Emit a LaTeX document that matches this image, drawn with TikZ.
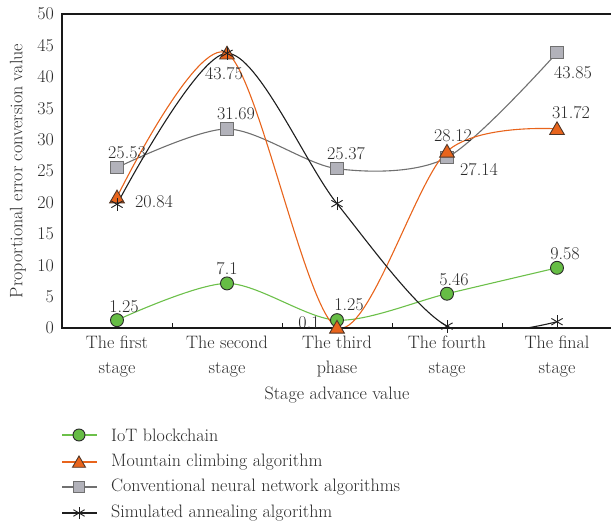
\documentclass[tikz,border=0pt]{standalone}
\usepackage{fontspec}
\usetikzlibrary{shapes.geometric}
\definecolor{cgreen}{HTML}{6CC04A}
\definecolor{cgreenfill}{HTML}{66BD45}
\definecolor{corange}{HTML}{E8641C}
\definecolor{cgray}{HTML}{707070}
\definecolor{cgrayfill}{HTML}{B2B2BA}
\definecolor{cblack}{HTML}{1E1E1E}
\definecolor{ctext}{HTML}{2A2A2A}
\tikzset{
  txt/.style={font=\fontsize{18}{25}\selectfont, text=ctext, inner sep=0pt},
  cat/.style={txt, align=center},
  mkcirc/.style={circle, draw=ctext, fill=cgreenfill, line width=0.9pt, minimum size=13pt, inner sep=0pt},
  mktri/.style={regular polygon, regular polygon sides=3, draw=ctext!80!corange, fill=corange, line width=0.9pt, minimum size=17pt, inner sep=0pt},
  mksq/.style={rectangle, draw=cgray, fill=cgrayfill, line width=1pt, minimum size=12.5pt, inner sep=0pt},
  mkstar/.style={inner sep=0pt, minimum size=13pt, path picture={
      \draw[cblack, line width=0.9pt] (path picture bounding box.south) -- (path picture bounding box.north);
      \draw[cblack, line width=0.9pt] ([shift={(-5.6pt,3.3pt)}]path picture bounding box.center) -- ([shift={(5.6pt,-3.3pt)}]path picture bounding box.center);
      \draw[cblack, line width=0.9pt] ([shift={(-5.6pt,-3.3pt)}]path picture bounding box.center) -- ([shift={(5.6pt,3.3pt)}]path picture bounding box.center);
  }},
  lgreen/.style={cgreen, line width=1.1pt},
  lorange/.style={corange, line width=1.1pt},
  lgray/.style={cgray, line width=1.1pt},
  lblack/.style={cblack, line width=1.1pt},
  axisline/.style={line width=2.2pt, black!90},
}
\begin{document}
\begin{tikzpicture}[x=1pt, y=-1pt]
\useasboundingbox (0,0) rectangle (611,527);
% data coordinates
\foreach \n/\xx/\a/\b/\c/\d in {1/117/1.25/20.84/25.53/19.7, 2/227/7.1/43.75/31.69/43.75, 3/337/1.25/0.1/25.37/19.8, 4/447/5.46/28.12/27.14/0.3, 5/557/9.58/31.72/43.85/1.0}{
  \coordinate (g\n) at (\xx, {328-6.28*\a});
  \coordinate (o\n) at (\xx, {328-6.28*\b});
  \coordinate (q\n) at (\xx, {328-6.28*\c});
  \coordinate (s\n) at (\xx, {328-6.28*\d});
}
% curves
\begin{scope}
\clip (62,14) rectangle (611,328);
\draw[lgray] plot[smooth, tension=0.5] coordinates {(q1) (q2) (q3) (q4) (q5)};
\draw[lgreen] plot[smooth, tension=0.5] coordinates {(g1) (g2) (g3) (g4) (g5)};
\draw[lorange] plot[smooth, tension=0.5] coordinates {(o1) (o2) (o3) (o4) (o5)};
\draw[lblack] plot[smooth, tension=0.5] coordinates {(s1) (s2) (s3) (s4) (s5)};
\end{scope}
% axes
\draw[axisline] (611,14) -- (62,14) -- (62,328) -- (611,328);
\foreach \tx [count=\i] in {172,282,392,502}{
  \draw[line width=1pt, black!90] (\tx,328) -- (\tx,323);
}
% y tick labels
\foreach \v in {0,5,...,50}{
  \node[txt, anchor=east] (yl\v) at (54,{328-6.28*\v}) {\v};
}
\node[txt, rotate=90] (ylab) at (18,171) {Proportional error conversion value};
% category labels
\node[cat] (c1) at (117,357) {The first\\stage};
\node[cat] (c2) at (227,357) {The second\\stage};
\node[cat] (c3) at (337,357) {The third\\phase};
\node[cat] (c4) at (447,357) {The fourth\\stage};
\node[cat] (c5) at (557,357) {The final\\stage};
\node[txt] (xlab) at (337,395) {Stage advance value};
% markers
\foreach \n in {1,...,5}{
  \node[mksq] (mq\n) at (q\n) {};
}
\foreach \n in {1,...,5}{
  \node[mkcirc] (mg\n) at (g\n) {};
}
\foreach \n in {1,...,5}{
  \node[mktri, yshift=-1.5pt] (mo\n) at (o\n) {};
}
\foreach \n in {1,...,5}{
  \node[mkstar] (ms\n) at (s\n) {};
}
% data labels
\node[txt] (t1) at (124,307) {1.25};
\node[txt] (t2) at (227,269) {7.1};
\node[txt] (t3) at (349,305) {1.25};
\node[txt] (t4) at (454,280) {5.46};
\node[txt] (t5) at (565,254) {9.58};
\node[txt] (t6) at (154,202) {20.84};
\node[txt] (t7) at (224,74) {43.75};
\node[txt] (t8) at (309,323) {0.1};
\node[txt] (t9) at (453,136) {28.12};
\node[txt] (t10) at (571,113) {31.72};
\node[txt] (t11) at (127,153) {25.53};
\node[txt] (t12) at (236,114) {31.69};
\node[txt] (t13) at (346,154) {25.37};
\node[txt] (t14) at (479,170) {27.14};
\node[txt] (t15) at (573,73) {43.85};
% legend
\coordinate (la1) at (62,435); \coordinate (lb1) at (97,435);
\coordinate (la2) at (62,462); \coordinate (lb2) at (97,462);
\coordinate (la3) at (62,487); \coordinate (lb3) at (97,487);
\coordinate (la4) at (62,513); \coordinate (lb4) at (97,513);
\draw[lgreen] (la1) -- (lb1);
\draw[lorange] (la2) -- (lb2);
\draw[lgray] (la3) -- (lb3);
\draw[lblack] (la4) -- (lb4);
\node[mkcirc, minimum size=12pt] (lm1) at (79,435) {};
\node[mktri, minimum size=15pt, yshift=-1.5pt] (lm2) at (79,462) {};
\node[mksq, minimum size=11pt] (lm3) at (79,487) {};
\node[mkstar, minimum size=12pt] (lm4) at (79,513) {};
\node[txt, anchor=west] (lt1) at (111,435) {IoT blockchain};
\node[txt, anchor=west] (lt2) at (111,462) {Mountain climbing algorithm};
\node[txt, anchor=west] (lt3) at (111,487) {Conventional neural network algorithms};
\node[txt, anchor=west] (lt4) at (111,513) {Simulated annealing algorithm};
\end{tikzpicture}
\end{document}
